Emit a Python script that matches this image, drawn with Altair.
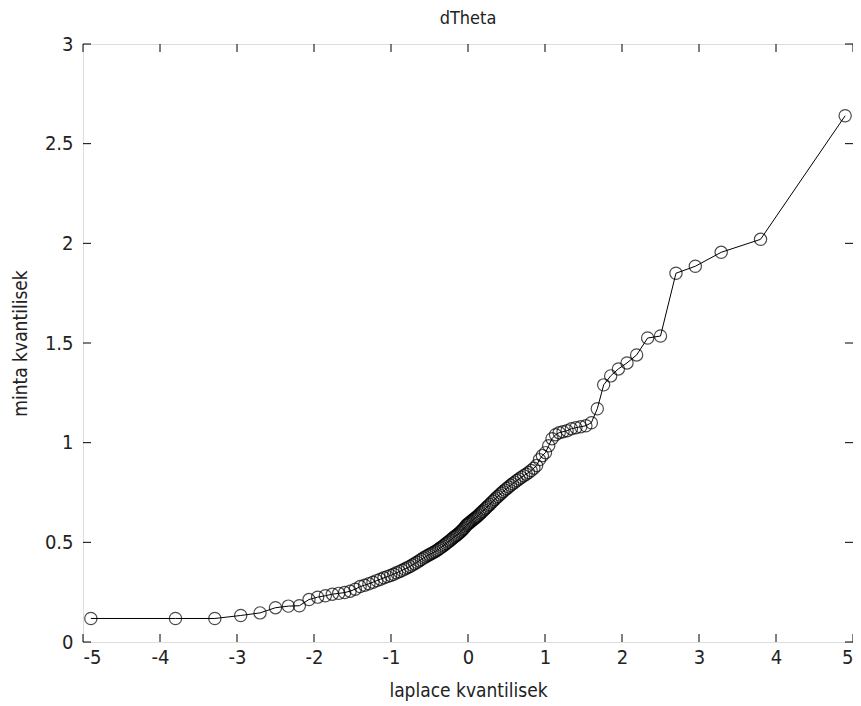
import altair as alt
import pandas as pd

laplace_q = [
    -4.898, -3.799, -3.288, -2.952, -2.701, -2.500, -2.333, -2.190, -2.065, -1.953,
    -1.853, -1.762, -1.679, -1.602, -1.531, -1.464, -1.401, -1.343, -1.287, -1.234,
    -1.184, -1.137, -1.091, -1.048, -1.006, -0.966, -0.928, -0.891, -0.855, -0.820,
    -0.787, -0.755, -0.723, -0.693, -0.664, -0.635, -0.607, -0.580, -0.554, -0.528,
    -0.503, -0.479, -0.455, -0.432, -0.409, -0.387, -0.365, -0.344, -0.323, -0.303,
    -0.283, -0.263, -0.244, -0.225, -0.206, -0.188, -0.170, -0.153, -0.136, -0.119,
    -0.102, -0.086, -0.070, -0.054, -0.038, -0.023, -0.0075,
    0.0075, 0.023, 0.038, 0.054, 0.070, 0.086, 0.102, 0.119, 0.136, 0.153,
    0.170, 0.188, 0.206, 0.225, 0.244, 0.263, 0.283, 0.303, 0.323, 0.344,
    0.365, 0.387, 0.409, 0.432, 0.455, 0.479, 0.503, 0.528, 0.554, 0.580,
    0.607, 0.635, 0.664, 0.693, 0.723, 0.755, 0.787, 0.820, 0.855, 0.891,
    0.928, 0.966, 1.006, 1.048, 1.091, 1.137, 1.184, 1.234, 1.287, 1.343,
    1.401, 1.464, 1.531, 1.602, 1.679, 1.762, 1.853, 1.953, 2.065, 2.190,
    2.333, 2.500, 2.701, 2.952, 3.288, 3.799, 4.898,
]

minta_q = [
    0.118, 0.118, 0.118, 0.133, 0.146, 0.172, 0.180, 0.182, 0.213, 0.225,
    0.232, 0.240, 0.244, 0.248, 0.255, 0.265, 0.278, 0.285, 0.292, 0.300,
    0.308, 0.315, 0.322, 0.328, 0.334, 0.340, 0.347, 0.353, 0.360, 0.366,
    0.372, 0.379, 0.386, 0.393, 0.400, 0.407, 0.414, 0.421, 0.427, 0.433,
    0.438, 0.443, 0.448, 0.453, 0.458, 0.464, 0.470, 0.476, 0.482, 0.488,
    0.494, 0.500, 0.506, 0.512, 0.518, 0.524, 0.529, 0.534, 0.539, 0.545,
    0.551, 0.557, 0.563, 0.570, 0.577, 0.584, 0.591,
    0.595, 0.600, 0.605, 0.610, 0.615, 0.620, 0.625, 0.630, 0.636, 0.642,
    0.648, 0.655, 0.662, 0.669, 0.676, 0.683, 0.690, 0.698, 0.706, 0.714,
    0.722, 0.730, 0.738, 0.746, 0.754, 0.762, 0.770, 0.778, 0.786, 0.794,
    0.802, 0.810, 0.818, 0.826, 0.834, 0.842, 0.850, 0.860, 0.872, 0.885,
    0.915, 0.935, 0.950, 0.985, 1.020, 1.040, 1.050, 1.055, 1.060, 1.070,
    1.075, 1.080, 1.085, 1.100, 1.170, 1.290, 1.335, 1.370, 1.400, 1.440,
    1.525, 1.535, 1.850, 1.885, 1.955, 2.020, 2.640,
]

x_ticks = [-5, -4, -3, -2, -1, 0, 1, 2, 3, 4, 5]
y_ticks = [0, 0.5, 1, 1.5, 2, 2.5, 3]

FONT = "Liberation Sans Narrow, DejaVu Sans Condensed, Arial Narrow, sans-serif"
W, H = 770, 598
TL = 8

df = pd.DataFrame({"lq": laplace_q, "mq": minta_q})
dx = pd.DataFrame({"t": x_ticks})
dy = pd.DataFrame({"t": y_ticks})

xs = alt.Scale(domain=[-5, 5], nice=False, zero=False)
ys = alt.Scale(domain=[0, 3], nice=False, zero=False)

x_axis = alt.Axis(values=x_ticks, ticks=False, domain=False, grid=False,
                  labelExpr="'' + datum.value",
                  labelFont=FONT, labelFontSize=20, labelColor="#222", labelPadding=5,
                  title="laplace kvantilisek", titleFont=FONT, titleFontSize=19,
                  titleFontWeight="normal", titleColor="#222", titlePadding=14)
y_axis = alt.Axis(values=y_ticks, ticks=False, domain=False, grid=False,
                  labelExpr="'' + datum.value",
                  labelFont=FONT, labelFontSize=20, labelColor="#222", labelPadding=10,
                  title="minta kvantilisek", titleFont=FONT, titleFontSize=19,
                  titleFontWeight="normal", titleColor="#222", titlePadding=14)

base = alt.Chart(df)
line = base.mark_line(color="black", strokeWidth=1).encode(
    x=alt.X("lq:Q", scale=xs, axis=x_axis),
    y=alt.Y("mq:Q", scale=ys, axis=y_axis),
)
pts = base.mark_point(shape="circle", filled=False, color="black", size=150, strokeWidth=1.2).encode(
    x=alt.X("lq:Q", scale=xs),
    y=alt.Y("mq:Q", scale=ys),
)

xt_bottom = alt.Chart(dx).mark_rule(color="black", strokeWidth=1).encode(
    x=alt.X("t:Q", scale=xs), y=alt.value(H), y2=alt.value(H - TL))
xt_top = alt.Chart(dx).mark_rule(color="black", strokeWidth=1).encode(
    x=alt.X("t:Q", scale=xs), y=alt.value(0), y2=alt.value(TL))
yt_left = alt.Chart(dy).mark_rule(color="black", strokeWidth=1).encode(
    y=alt.Y("t:Q", scale=ys), x=alt.value(0), x2=alt.value(TL))
yt_right = alt.Chart(dy).mark_rule(color="black", strokeWidth=1).encode(
    y=alt.Y("t:Q", scale=ys), x=alt.value(W - TL), x2=alt.value(W))

chart = alt.layer(line, pts, xt_bottom, xt_top, yt_left, yt_right).properties(
    width=W, height=H,
    title=alt.Title("dTheta", font=FONT, fontSize=18, fontWeight="normal", color="#222", offset=6),
    autosize=alt.AutoSizeParams(type="none"),
    padding={"left": 75, "top": 36, "right": 0, "bottom": 60},
).configure_view(stroke="black", strokeWidth=1.5).configure(background="white")

chart.save("out.html", embed_options={"renderer": "svg", "actions": False})
